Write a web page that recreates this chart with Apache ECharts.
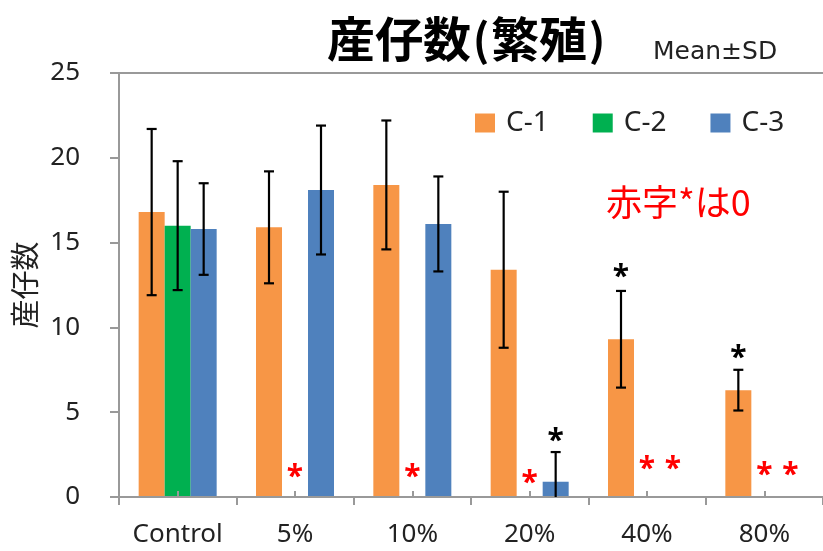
<!DOCTYPE html>
<html>
<head>
<meta charset="utf-8">
<script src="https://cdn.jsdelivr.net/npm/echarts@6/dist/echarts.min.js"></script>
<style>html,body{margin:0;padding:0;background:#fff}#c{width:823px;height:551px}</style>
</head>
<body>
<div id="c"></div>
<script>
// ---- data ----
const categories = ['Control', '5%', '10%', '20%', '40%', '80%'];
const seriesNames = ['C-1', 'C-2', 'C-3'];
const c1Mean = [16.8, 15.9, 18.4, 13.4, 9.3, 6.3];
const c1Sd   = [4.9, 3.3, 3.8, 4.6, 2.85, 1.2];
const c2Mean = [16.0, 0, 0, 0, 0, 0];
const c2Sd   = [3.8, null, null, null, null, null];
const c3Mean = [15.8, 18.1, 16.1, 0.9, 0, 0];
const c3Sd   = [2.7, 3.8, 2.8, 1.75, null, null];
const yTicks = [0, 5, 10, 15, 20, 25];
// significance marks (category index, series index, height in axis units)
const blackMarkCat = [3, 4, 5];
const blackMarkSer = [2, 0, 0];
const blackMarkY   = [3.62, 13.3, 8.53];
// red "*" = value is 0
const redMarkCat = [1, 2, 3, 4, 4, 5, 5];
const redMarkSer = [1, 1, 1, 1, 2, 1, 2];
const redMarkY   = [1.5, 1.5, 1.15, 1.96, 1.96, 1.6, 1.6];

const colors = ['#F79646', '#00B050', '#4F81BD'];
const BAR_W = 26;
const AX = '#999999';
const means = [c1Mean, c2Mean, c3Mean];
const sds = [c1Sd, c2Sd, c3Sd];

const chart = echarts.init(document.getElementById('c'));

function errData(s) {
  const out = [];
  means[s].forEach((m, i) => { if (sds[s][i] != null) out.push([i, m, sds[s][i]]); });
  return out;
}
function errRender(s) {
  return function (params, api) {
    const cat = api.value(0), m = api.value(1), sd = api.value(2);
    const off = (s - 1) * BAR_W;
    const lo = Math.max(0, m - sd), hi = m + sd;
    const pHi = api.coord([cat, hi]);
    const pLo = api.coord([cat, lo]);
    const x = pHi[0] + off;
    const cw = 5;
    const st = { stroke: '#000', lineWidth: 2.2 };
    const children = [
      { type: 'line', shape: { x1: x, y1: pHi[1], x2: x, y2: pLo[1] }, style: st },
      { type: 'line', shape: { x1: x - cw, y1: pHi[1], x2: x + cw, y2: pHi[1] }, style: st }
    ];
    if (m - sd > 0) children.push({ type: 'line', shape: { x1: x - cw, y1: pLo[1], x2: x + cw, y2: pLo[1] }, style: st });
    return { type: 'group', children };
  };
}
function markRender(color) {
  return function (params, api) {
    const cat = api.value(0), s = api.value(1), y = api.value(2);
    const p = api.coord([cat, y]);
    return {
      type: 'text',
      x: p[0] + (s - 1) * BAR_W,
      y: p[1] + 6,
      style: { text: '*', fill: color, font: 'bold 30px "Noto Sans"', textAlign: 'center', textVerticalAlign: 'middle' }
    };
  };
}

const series = [];
seriesNames.forEach((n, s) => {
  series.push({
    name: n, type: 'bar', data: means[s], barWidth: BAR_W, barGap: '0%',
    itemStyle: { color: colors[s] }, xAxisIndex: 0, yAxisIndex: 0, z: 2
  });
});
seriesNames.forEach((n, s) => {
  series.push({
    type: 'custom', data: errData(s), renderItem: errRender(s), xAxisIndex: 0, yAxisIndex: 0, z: 5, silent: true
  });
});
series.push({
  type: 'custom', xAxisIndex: 0, yAxisIndex: 0, z: 6, silent: true,
  data: blackMarkCat.map((c, i) => [c, blackMarkSer[i], blackMarkY[i]]),
  renderItem: markRender('#000')
});
series.push({
  type: 'custom', xAxisIndex: 0, yAxisIndex: 0, z: 6, silent: true,
  data: redMarkCat.map((c, i) => [c, redMarkSer[i], redMarkY[i]]),
  renderItem: markRender('#FF0000')
});

chart.setOption({
  animation: false,
  color: colors,
  title: {
    left: 322, top: 10,
    text: '{a|産仔数}{p|(}{a|繁殖}{p|)}',
    textStyle: {
      rich: {
        a: { fontSize: 48, fontWeight: 'bold', fontFamily: '"Noto Sans CJK JP"', color: '#000' },
        p: { fontSize: 44, fontWeight: 'bold', fontFamily: '"Noto Sans CJK JP"', color: '#000', width: 20, align: 'center' }
      }
    }
  },
  graphic: [
    { type: 'text', left: 653, top: 40, style: { text: 'Mean±SD', font: '25px "DejaVu Sans"', fill: '#222' } },
    { type: 'text', left: 606, top: 184, style: { text: '赤字*は0', font: '36px "Noto Sans CJK JP"', fill: '#FF0000' } }
  ],
  legend: {
    data: seriesNames, left: 470, top: 104, icon: 'rect', itemWidth: 20, itemHeight: 19, itemGap: 44,
    textStyle: { fontSize: 28, fontFamily: '"Noto Sans"', color: '#222', padding: [0, 0, 0, 6] }
  },
  grid: { left: 119, top: 73, width: 706, height: 424 },
  xAxis: [
    {
      type: 'category', data: categories, position: 'bottom', z: 3,
      axisLine: { show: true, lineStyle: { color: AX, width: 2 } },
      axisTick: { show: true, alignWithLabel: false, inside: false, length: 8, lineStyle: { color: AX, width: 2 } },
      axisLabel: { interval: 0, fontSize: 26, fontFamily: '"Noto Sans"', color: '#222', margin: 25 },
      splitLine: { show: false }
    },
    {
      type: 'category', data: categories, position: 'bottom', gridIndex: 0, z: 3,
      axisLine: { show: false },
      axisTick: { show: true, interval: 0, alignWithLabel: true, inside: true, length: 6, lineStyle: { color: AX, width: 2 } },
      axisLabel: { show: false }, splitLine: { show: false }
    },
    {
      type: 'category', data: categories, position: 'top', gridIndex: 0,
      axisLine: { show: true, lineStyle: { color: AX, width: 2 } },
      axisTick: { show: false }, axisLabel: { show: false }, splitLine: { show: false }
    }
  ],
  yAxis: {
    type: 'value', min: yTicks[0], max: yTicks[yTicks.length - 1], interval: yTicks[1] - yTicks[0],
    name: '産仔数', nameLocation: 'middle', nameGap: 76, nameRotate: 90,
    nameTextStyle: { fontSize: 29, fontFamily: '"Noto Sans CJK JP"', color: '#222' },
    axisLine: { show: true, lineStyle: { color: AX, width: 2 } },
    axisTick: { show: true, inside: false, length: 9, lineStyle: { color: AX, width: 2 } },
    axisLabel: { fontSize: 26, fontFamily: '"Noto Sans"', color: '#222', margin: 39 },
    splitLine: { show: false }
  },
  series
});
</script>
</body>
</html>
